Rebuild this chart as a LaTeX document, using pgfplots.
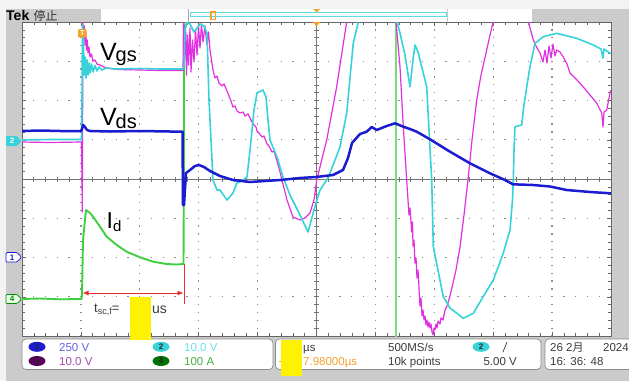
\documentclass[border=0pt]{standalone}
\usepackage{pgfplots}
\pgfplotsset{compat=1.18}
\usetikzlibrary{arrows.meta}
\usepackage{fontspec}
\setmainfont{Liberation Sans}
\newfontfamily\cjk{Noto Sans CJK SC}
\definecolor{bgl}{HTML}{F3F3F3}
\definecolor{bgg}{HTML}{CBCBCB}
\definecolor{chA}{HTML}{1B1BCF}
\definecolor{chB}{HTML}{38D3D8}
\definecolor{chC}{HTML}{E22FE2}
\definecolor{chD}{HTML}{3FCF3F}
\definecolor{gridc}{HTML}{8C8C8C}
\definecolor{tekor}{HTML}{F2A22E}
\definecolor{txtd}{HTML}{3C3C3C}
\definecolor{redc}{HTML}{E8302A}
\newcommand\fs[1]{\fontsize{#1}{#1}\selectfont}
\begin{document}
\begin{tikzpicture}
\useasboundingbox (0,0) rectangle (629pt,-381pt);
\begin{scope}[x=1pt,y=-1pt]
\fill[bgl] (0,0) rectangle (629,381);
\fill[bgg] (6,9) rectangle (629,381);
\fill[white] (101,9) rectangle (187,21.5);
\fill[white] (187,9) rectangle (447,21.5);
\draw[black!35, line width=0.6pt] (188,9) -- (188,21.5);
\draw[chB!80, line width=0.6pt, fill=chB!8] (190,12.5) rectangle (446,16.5);
\fill[white] (447.5,9) rectangle (532,21.5);
\draw[tekor, line width=1.1pt] (211,12) rectangle (215.5,19.5);
\fill[tekor] (313,9) -- (320,9) -- (316.5,12.5) -- cycle;
\node[anchor=base west, inner sep=0, font=\bfseries\fs{14}] at (6,20.5) {Tek};
\node[anchor=base west, inner sep=0, font=\cjk\fs{12}, black!80] at (33.5,20) {停止};
% plot area
\fill[white] (22,22) rectangle (611,336);
\foreach \k in {1,2,3,4,6,7,8,9}
  \draw[gridc, line width=1.3pt, dash pattern=on 1.3pt off 6.55pt, dash phase=0.65pt] ({22+58.9*\k},22) -- ({22+58.9*\k},336);
\foreach \k in {1,2,3,5,6,7}
  \draw[gridc, line width=1.3pt, dash pattern=on 1.3pt off 10.48pt, dash phase=0.65pt] (22,{22+39.25*\k}) -- (611,{22+39.25*\k});
\draw[black!55, line width=0.7pt] (22,179) -- (611,179) (316.5,22) -- (316.5,336);
\foreach \i in {0,...,50} \draw[black!55, line width=0.6pt] ({22+11.78*\i},176.5) -- ++(0,5);
\foreach \i in {0,...,40} \draw[black!55, line width=0.6pt] (314,{22+7.85*\i}) -- ++(5,0);
\end{scope}

\begin{axis}[
  at={(22pt,-336pt)}, anchor=south west,
  width=589pt, height=314pt, scale only axis,
  xmin=22, xmax=611, ymin=22, ymax=336, y dir=reverse,
  axis line style={draw=black!60, line width=0.8pt},
  xtick={22,80.9,139.8,198.7,257.6,316.5,375.4,434.3,493.2,552.1,611},
  ytick={22,61.25,100.5,139.75,179,218.25,257.5,296.75,336},
  xticklabels={}, yticklabels={},
  minor tick num=4, tick align=inside,
  major tick length=4pt, minor tick length=3pt,
  tick style={black!60, line width=0.5pt},
  clip=true, no markers,
  every axis plot/.append style={line join=round},
]
% Id (ch4)
\addplot[chD, line width=1.9pt] coordinates {
(22,299) (40,298.5) (60,299.3) (81.5,299) (82,295) (83,240) (86,210) (90,213)
(93.3,217) (100,226.7) (106.7,236.7) (116.7,245) (126.7,251.7) (140,257.3)
(153.3,261.7) (166.7,264) (176,264.5) (183.5,264) (184,150) (184,5)
};
\addplot[chD!70, line width=1.3pt] coordinates {(396,5) (396,340)};
% ch3 magenta
\addplot[chC, line width=1.2pt] coordinates {
(22,142) (50,142.5) (81.5,142) (82,180) (82.3,212) (82.6,120) (83,23) (83.7,40) (84.3,26)
(85,45) (85.7,32) (86.5,50) (87.3,40) (88,53) (89,47) (90,57) (91.5,54) (93,61) (95,60)
(97,64) (100,65) (104,67) (108,68) (117,69.5) (140,70) (160,70.5) (182.5,70.5)
(183,70) (183.5,22) (184.5,60) (185.5,25) (186.5,75) (187.5,35) (188.5,65) (190,28)
(191,72) (192.5,40) (194,62) (195.5,30) (197,55) (198.5,26) (200,48) (201.5,24) (203,42)
(205,26) (207,45) (208.5,32) (210,50)
(213,70) (215,78) (217,76) (219,83) (222,86) (224,84) (227,91) (229,96) (231,101) (233,107)
(235,106) (237,111) (240,113) (243,112) (245,116) (248,114) (250,118) (252,122) (254,125)
(256,127) (257,131) (259,133) (262,137) (264,136) (267,144) (269,146) (272,152) (274,151)
(277,161) (279,168) (282,180) (287,200) (293,217) (300,220) (305,218) (310,213) (314,200)
(316.7,180) (326.7,140) (336.7,86.7) (346.7,21.7) (349,5)
(393,5) (396,22) (400,66.7) (403.3,126.7)
(406.7,180) (408,200) (409,215) (410,208) (411.7,232) (412.5,222) (413,246) (414,240)
(415,263) (416,258) (417,278) (418,270) (420,306) (421,298) (422,316) (423,310) (424,320)
(425,316) (426,325) (427,320) (428,327) (429,322) (430,328) (431,324) (432,332) (433,335)
(434,328) (435,330) (436,324) (437,328) (438,321) (440,324) (441,318) (443,320) (445,310)
(447,306) (450,296) (453,283) (456,270) (460,247) (464,215) (468,180) (472,140)
(476.7,100) (481,75) (486.7,50) (490,35) (493.3,21.7) (495,5)
(526,5) (528.3,21.7) (533.3,40) (537,48) (540,53) (543,62) (545,50) (547,63) (549,46)
(551,58) (553,44) (555,56) (556.7,50) (560,52) (563.3,57) (567,64) (570,73) (577,80)
(583.3,87) (590,95) (596.7,103) (601.7,113) (603,127) (604,112) (606.7,110) (610,93) (611,90)
};
% ch2 cyan
\addplot[chB, line width=1.6pt] coordinates {
(22,140) (50,139.5) (81.5,139.5) (82,100) (82.5,25) (83.5,40) (84,75) (85,57) (86,78)
(87,60) (88,75) (89,63) (90,73) (91.5,64) (93,72) (95,65.5) (97,71) (99,67) (102,70)
(106,68) (115,69) (140,68.5) (160,69) (182.5,69) (184,67) (185,30) (187,22) (190,24)
(194,32) (197,28) (200,24) (204,26) (207,33) (209,100) (213,180) (217,190) (220,190)
(227,200) (233,193) (237,183) (243,180) (247,177) (250,150) (254,110) (257,93) (263,90)
(266,97) (268,120) (270,140) (277,157) (283,177) (290,195) (300,215) (308,232) (314,210)
(320,190) (326.7,180) (330,173) (340,147) (346.7,113) (353.3,43) (360,15) (362,5)
(394,5) (397,22) (400,33) (405,55) (410,86.7) (413,60) (415,45) (418,52) (420,60)
(426.7,86.7) (429,130) (431.7,180) (433.3,246.7) (443.3,296.7) (450,308) (463.3,318.3)
(473.3,313.3) (483,297) (493.3,280) (503,254) (510,230) (512.5,200) (513.3,180)
(514,150) (515,126.7) (521.7,125) (523.3,110) (527,85) (530,66.7) (535,43.3)
(543.3,36.7) (556.7,33.3) (576.7,38.3) (593.3,45) (601,49) (603,58) (604,49) (610,53.3) (611,53.5)
};
% ch1 blue
\addplot[chA, line width=2.5pt] coordinates {
(22,131) (40,130.5) (60,131) (81,131) (82,129) (83,125) (85,127) (87,130) (90,131)
(110,131.5) (140,131) (170,131.5) (182.5,131.5) (183,205) (184,205) (186,173) (190,170)
(195,166) (199,165) (204,167) (210,171) (220,176) (233,180) (250,182) (265,181) (280,180)
(300,178) (316,177) (333,175) (343,170) (348,158) (352,143) (360,134) (366.7,131.7)
(371.7,127) (376.7,130) (386.7,126) (395,123.3) (403.3,126.7) (410,129) (416.7,131.7)
(430,139.3) (450,151.7) (470,163.3) (490,173.3) (505,180) (513,184.3) (533,185)
(550,186.5) (566.7,190) (590,192) (611,193.3)
};
% annotation
\draw[redc, line width=0.9pt, {Latex[length=6pt,width=5pt]}-{Latex[length=6pt,width=5pt]}]
  (axis cs:82.5,293) -- (axis cs:183.5,293);
\draw[redc, line width=0.9pt] (axis cs:184,264) -- (axis cs:184,304);
\end{axis}

\begin{scope}[x=1pt,y=-1pt]
\fill[tekor] (312.5,21.8) -- (320.5,21.8) -- (316.5,26.5) -- cycle;
\fill[tekor, rounded corners=1pt] (78,29) rectangle (86.5,37.5);
\node[white, inner sep=0, font=\bfseries\fs{7}] at (82.2,33.4) {T};
% labels
\node[anchor=base west, inner sep=0, font=\fs{25}] at (100,60) {V};
\node[anchor=base west, inner sep=0, font=\fs{20}] at (115.5,61.5) {gs};
\node[anchor=base west, inner sep=0, font=\fs{25}] at (100,125) {V};
\node[anchor=base west, inner sep=0, font=\fs{20}] at (115.5,128) {ds};
\node[anchor=base west, inner sep=0, font=\fs{23}] at (106.5,228) {I};
\node[anchor=base west, inner sep=0, font=\fs{15}] at (113,231) {d};
\node[anchor=base west, inner sep=0, font=\fs{13}, txtd] at (94,312) {t\raisebox{-2.5pt}{\fs{9}sc,f}=};
\node[anchor=base west, inner sep=0, font=\fs{14}, txtd] at (152,313.5) {us};
% left markers
\fill[chB, rounded corners=1pt] (6,136) -- (17,136) -- (21.5,141) -- (17,146) -- (6,146) -- cycle;
\node[white, inner sep=0, font=\bfseries\fs{8}] at (12,141) {2};
\draw[chA, fill=white, line width=0.7pt, rounded corners=1pt] (6,252.5) -- (17,252.5) -- (21.5,257.3) -- (17,262) -- (6,262) -- cycle;
\node[chA, inner sep=0, font=\bfseries\fs{8}] at (12,257.3) {1};
\draw[green!55!black, fill=green!8, line width=0.7pt, rounded corners=1pt] (6,294.5) -- (17,294.5) -- (21.5,299) -- (17,303.5) -- (6,303.5) -- cycle;
\node[green!55!black, inner sep=0, font=\bfseries\fs{8}] at (12,299) {4};
% status boxes
\draw[black!45, fill=white, line width=0.7pt, rounded corners=4pt] (22,339) rectangle (273,369.5);
\draw[black!45, fill=white, line width=0.7pt, rounded corners=4pt] (275.5,339) rectangle (541,369.5);
\draw[black!45, fill=white, line width=0.7pt, rounded corners=4pt] (545,339) rectangle (645,369.5);
\fill[chA] (37,346.8) ellipse (8.5 and 5);
\node[inner sep=0, font=\bfseries\fs{8}, black!85] at (37,346.8) {1};
\fill[chB] (161,346.8) ellipse (8.5 and 5);
\node[inner sep=0, font=\bfseries\fs{8}, black!85] at (161,346.8) {2};
\fill[violet!70!black] (37,361) ellipse (8.5 and 5);
\node[inner sep=0, font=\bfseries\fs{8}, black!85] at (37,361) {3};
\fill[green!45!black] (161,361) ellipse (8.5 and 5);
\node[inner sep=0, font=\bfseries\fs{8}, black!85] at (161,361) {4};
\node[anchor=base west, inner sep=0, font=\fs{11.5}, color={rgb,255:red,100;green,100;blue,225}] at (59,351.5) {250 V};
\node[anchor=base west, inner sep=0, font=\fs{11.5}, color={rgb,255:red,110;green,225;blue,232}] at (184,351.5) {10.0 V};
\node[anchor=base west, inner sep=0, font=\fs{11.5}, color={rgb,255:red,165;green,75;blue,175}] at (59,365.5) {10.0 V};
\node[anchor=base west, inner sep=0, font=\fs{11.5}, color={rgb,255:red,70;green,175;blue,70}] at (184,365.5) {100 A};
\node[anchor=base west, inner sep=0, font=\fs{11.5}, txtd] at (303,351.5) {µs};
\draw[tekor, line width=0.9pt, dash pattern=on 2.5pt off 1.5pt] (279,361.5) -- (298,361.5);
\fill[tekor] (297,358.5) -- (302,361.5) -- (297,364.5) -- cycle;
\node[anchor=base west, inner sep=0, font=\fs{11.5}, tekor] at (303,365.5) {7.98000µs};
\node[anchor=base west, inner sep=0, font=\fs{11.5}, txtd] at (388,351.5) {500MS/s};
\node[anchor=base west, inner sep=0, font=\fs{11.5}, txtd] at (388,365.5) {10k points};
\fill[chB] (481,346.8) ellipse (8.5 and 5);
\node[inner sep=0, font=\bfseries\fs{8}, black!85] at (481,346.8) {2};
\draw[txtd, line width=0.7pt] (503,352) -- (507,342);
\node[anchor=base east, inner sep=0, font=\fs{11.5}, txtd] at (517,365.5) {5.00 V};
\node[anchor=base west, inner sep=0, font=\fs{11.5}, txtd] at (550,351.5) {26 2{\cjk\fs{11}月}};
\node[anchor=base west, inner sep=0, font=\fs{11.5}, txtd] at (603,351.5) {2024};
\node[anchor=base west, inner sep=0, font=\fs{11.5}, txtd] at (550,365.5) {16: 36: 48};
% yellow masks
\fill[yellow] (130,296.5) rectangle (150.5,340);
\fill[yellow] (280.5,339.5) rectangle (302,376);
\end{scope}
\end{tikzpicture}
\end{document}
